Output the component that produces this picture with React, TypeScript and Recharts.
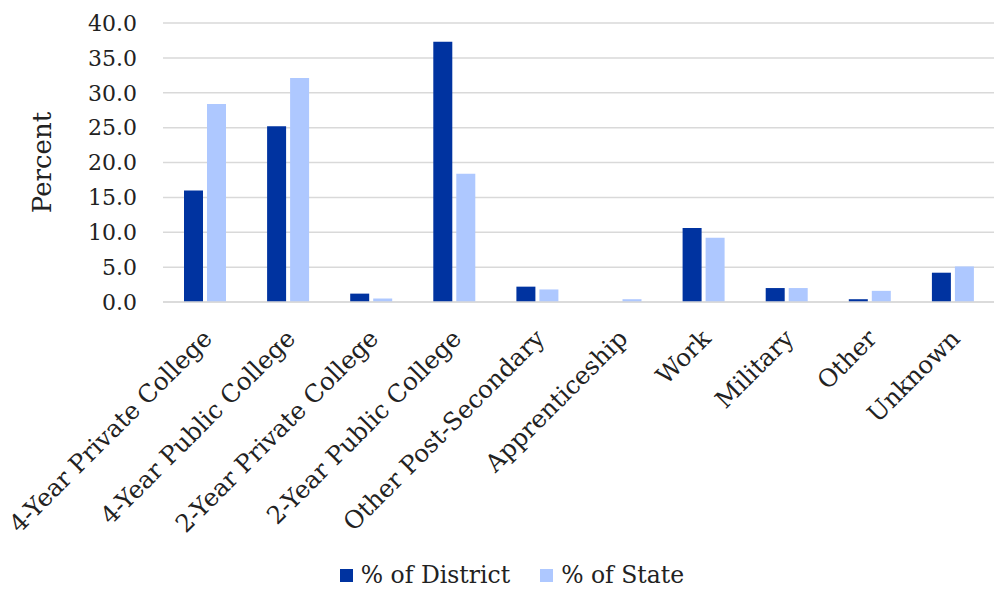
import React from 'react';
import { BarChart, Bar, XAxis, YAxis, CartesianGrid, Legend } from 'recharts';

const categories = [
    '4-Year Private College',
    '4-Year Public College',
    '2-Year Private College',
    '2-Year Public College',
    'Other Post-Secondary',
    'Apprenticeship',
    'Work',
    'Military',
    'Other',
    'Unknown',
];
const districtPct = [16.0, 25.2, 1.2, 37.3, 2.2, 0.0, 10.6, 2.0, 0.4, 4.2];
const statePct = [28.4, 32.1, 0.5, 18.4, 1.8, 0.4, 9.2, 2.0, 1.6, 5.1];
const yTicks = [0, 5, 10, 15, 20, 25, 30, 35, 40];

const FONT = '"DejaVu Serif", "Liberation Serif", serif';
const DISTRICT = '#0033A0';
const STATE = '#AEC8FF';

const data = categories.map((name, i) => ({
    name,
    district: districtPct[i],
    state: statePct[i],
}));

// rotated category label, anchored at its right end
const CategoryTick = (props: any) => {
    const { x, y, payload } = props;
    return (
        <g transform={`translate(${x + 9},${y + 30})`}>
            <text
                x={0}
                y={0}
                textAnchor="end"
                transform="rotate(-45)"
                fontFamily={FONT}
                fontSize={24.5}
                fill="#222"
            >
                {payload.value}
            </text>
        </g>
    );
};

const LegendContent = () => (
    <div style={{ display: 'flex', justifyContent: 'center', gap: 30, fontFamily: FONT, fontSize: 23.5, lineHeight: '26px', color: '#222', paddingTop: 12, marginLeft: 30 }}>
        <span style={{ display: 'flex', alignItems: 'center' }}>
            <span style={{ width: 13, height: 13, background: DISTRICT, marginRight: 8, display: 'inline-block' }} />
            % of District
        </span>
        <span style={{ display: 'flex', alignItems: 'center' }}>
            <span style={{ width: 13, height: 13, background: STATE, marginRight: 8, display: 'inline-block' }} />
            % of State
        </span>
    </div>
);

export default function App() {
    return (
        <div style={{ position: 'absolute', left: 0, top: 0, background: '#fff' }}>
            <BarChart
                width={994}
                height={590}
                data={data}
                margin={{ top: 23, right: 0, left: 0, bottom: 0 }}
                barSize={19}
                barGap={4}
            >
                <CartesianGrid horizontal vertical={false} stroke="#d9d9d9" strokeWidth={1.5} />
                <XAxis
                    dataKey="name"
                    interval={0}
                    height={248}
                    tick={<CategoryTick />}
                    tickLine={false}
                    axisLine={{ stroke: '#d9d9d9', strokeWidth: 1.5 }}
                />
                <YAxis
                    width={163}
                    domain={[0, 40]}
                    ticks={yTicks}
                    tickFormatter={(v: number) => v.toFixed(1)}
                    tickLine={false}
                    axisLine={false}
                    tickSize={0}
                    tickMargin={26}
                    tick={{ fontFamily: FONT, fontSize: 22, fill: '#222' }}
                    label={{
                        value: 'Percent',
                        angle: -90,
                        position: 'insideLeft',
                        dx: 37,
                        style: { fontFamily: FONT, fontSize: 26, fill: '#222', textAnchor: 'middle' },
                    }}
                />
                <Legend verticalAlign="bottom" height={40} content={<LegendContent />} />
                <Bar dataKey="district" name="% of District" fill={DISTRICT} isAnimationActive={false} />
                <Bar dataKey="state" name="% of State" fill={STATE} isAnimationActive={false} />
            </BarChart>
        </div>
    );
}
